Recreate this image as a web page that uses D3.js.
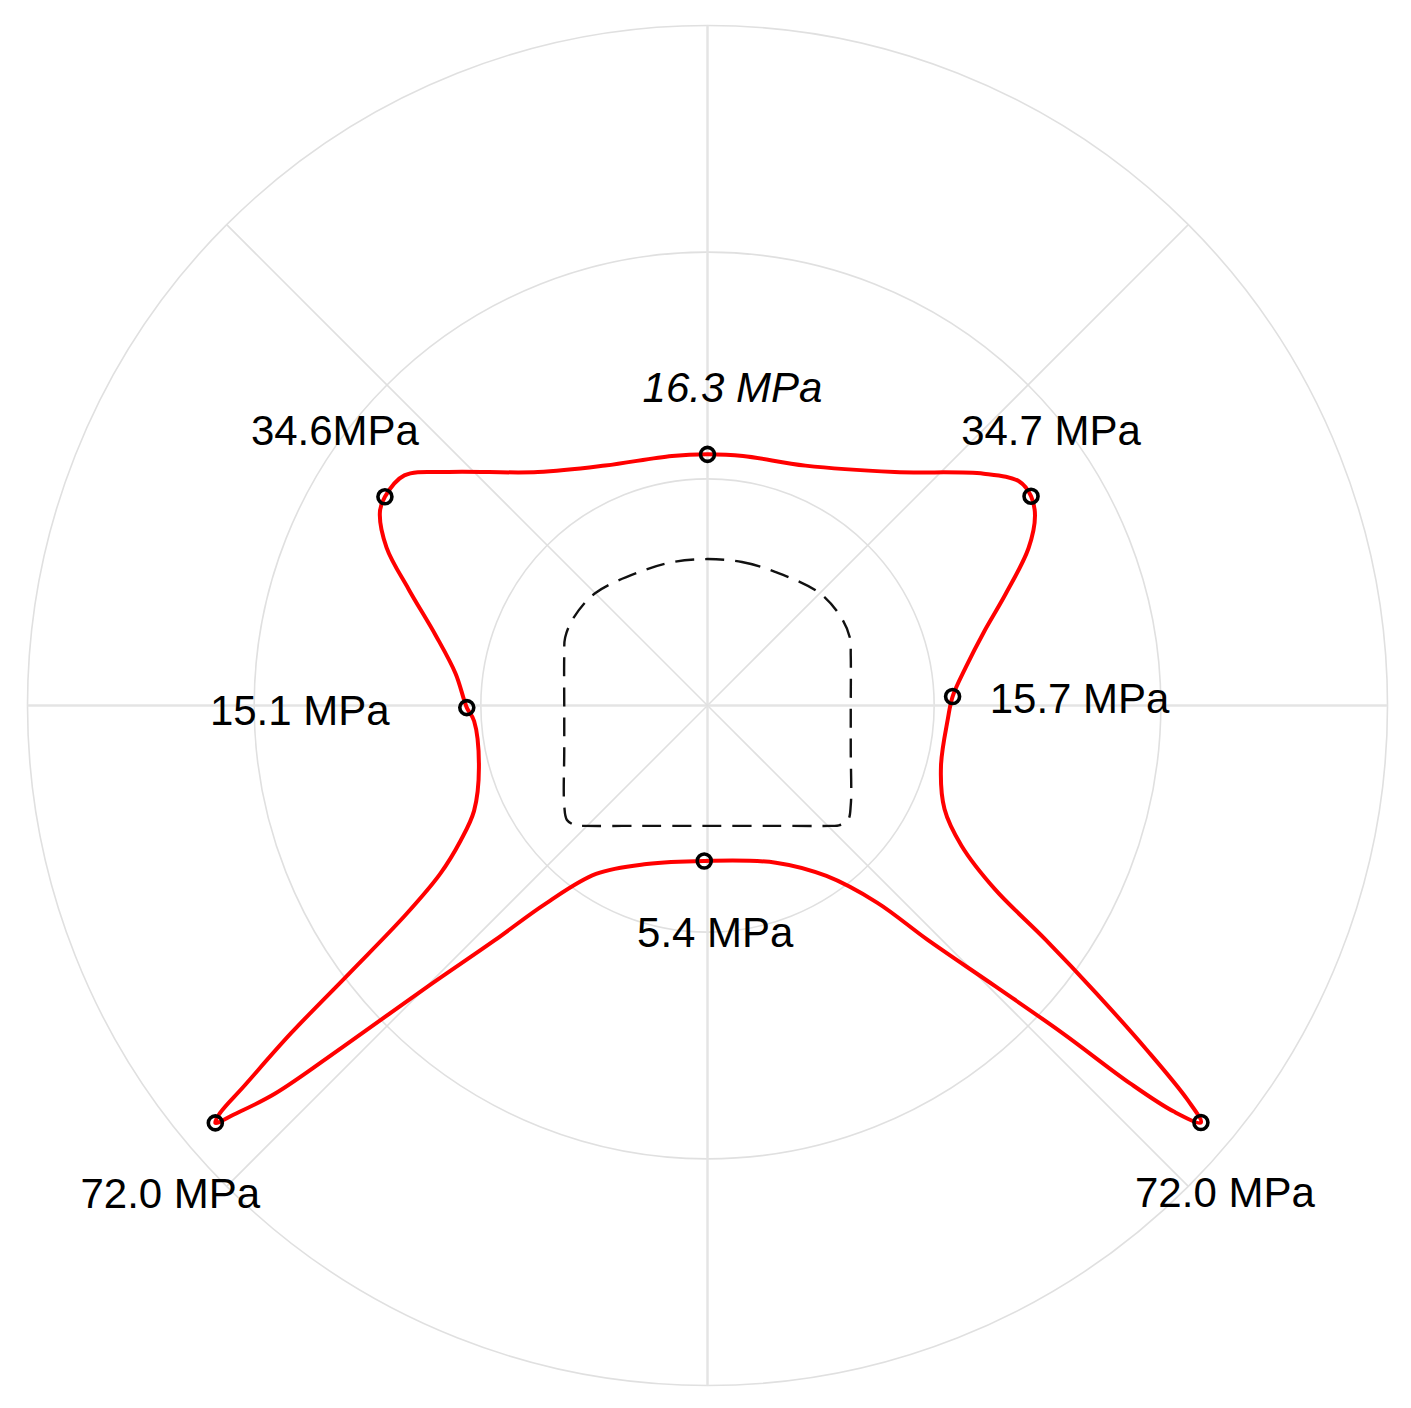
<!DOCTYPE html>
<html>
<head>
<meta charset="utf-8">
<script src="https://cdn.jsdelivr.net/npm/d3@7"></script>
<style>
  body { margin: 0; background: #fff; }
  text { font-family: Arial, "Liberation Sans", Helvetica, sans-serif; }
</style>
</head>
<body>
<div id="chart"></div>
<script>
// polar grid: ring radii (ring units) and spoke angles (deg, clockwise from top)
var ringValues = [1, 2, 3];
var spokeAngles = [0, 45, 90, 135, 180, 225, 270, 315];

// red stress curve (angle deg clockwise from top, radius in ring units)
var curveAngles = [0, 8.1, 22.2, 38.7, 50.0, 54.3, 57.1, 59.9, 63.9, 69.4, 75.1, 81.5, 87.9,
  93.2, 104.5, 113.6, 118.9, 122.6, 124.7, 126.5, 128.1, 129.4, 130.2, 131.05, 131.8, 132.7,
  134.3, 136.8, 139.3, 145.1, 156.5, 181.2, 201.0, 213.5, 219.3, 222.2, 224.9, 226.9, 228.1,
  229.2, 229.7, 230.1, 230.6, 231.8, 233.2, 235.3, 237.8, 241.3, 245.7, 254.8, 266.2, 269.5,
  277.2, 284.5, 291.2, 296.2, 300.6, 302.9, 307.2, 312.1, 324.0, 336.9, 351.9];
var curveRadii = [1.108, 1.112, 1.143, 1.320, 1.591, 1.694, 1.700, 1.670, 1.577, 1.407, 1.262, 1.153, 1.082,
  1.062, 1.064, 1.141, 1.280, 1.506, 1.814, 2.133, 2.463, 2.740, 2.850, 2.728, 2.501, 2.131,
  1.773, 1.417, 1.147, 0.917, 0.756, 0.686, 0.749, 0.891, 1.132, 1.399, 1.754, 2.207, 2.565,
  2.763, 2.847, 2.804, 2.648, 2.338, 1.976, 1.616, 1.394, 1.242, 1.130, 1.045, 1.032, 1.062,
  1.120, 1.239, 1.413, 1.578, 1.679, 1.695, 1.679, 1.537, 1.273, 1.151, 1.112];

// marked points and their labels
var pointAngles = [0, 57.1, 87.9, 130.2, 181.2, 229.7, 269.5, 302.9];
var pointRadii = [1.108, 1.700, 1.082, 2.850, 0.686, 2.847, 1.062, 1.695];
var pointLabels = ["16.3 MPa", "34.7 MPa", "15.7 MPa", "72.0 MPa", "5.4 MPa", "72.0 MPa", "15.1 MPa", "34.6MPa"];

// tunnel outline (dashed), x / y in ring units
var tunnelX = [0, 0.152, 0.298, 0.496, 0.592, 0.628, 0.632, 0.632, 0.632, 0.632, 0.62, 0.58, 0.54, 0.3, 0,
  -0.3, -0.54, -0.58, -0.62, -0.632, -0.632, -0.632, -0.632, -0.628, -0.592, -0.496, -0.298, -0.152];
var tunnelY = [0.646, 0.633, 0.59, 0.495, 0.385, 0.30, 0.22, 0.0, -0.2, -0.44, -0.505, -0.529, -0.531, -0.531, -0.531,
  -0.531, -0.531, -0.529, -0.505, -0.44, -0.2, 0.0, 0.22, 0.30, 0.385, 0.495, 0.59, 0.633];

var width = 1411, height = 1408;
var cx = 707.5, cy = 705.5, outer = 680;

// label placement relative to its point (px)
var labelOffsets = [[25, -52], [20, -51], [127, 16], [24, 85], [11, 86], [-45, 85], [-167, 17], [-50, -52]];

var rad = function(d) { return d * Math.PI / 180; };

var r = d3.scaleLinear().domain([0, 3]).range([0, outer]);
var x = d3.scaleLinear().domain([-3, 3]).range([-outer, outer]);
var y = d3.scaleLinear().domain([-3, 3]).range([outer, -outer]);

var svg = d3.select("#chart").append("svg")
    .attr("width", width)
    .attr("height", height),
  g = svg.append("g")
    .attr("transform", "translate(" + cx + "," + cy + ")");

// rings
g.selectAll(".ring")
  .data(ringValues)
  .enter().append("circle")
  .attr("class", "ring")
  .attr("r", function(d) { return r(d); })
  .attr("fill", "none")
  .attr("stroke", "#e0e0e0")
  .attr("stroke-width", 1.6);

// spokes
g.selectAll(".spoke")
  .data(spokeAngles)
  .enter().append("line")
  .attr("class", "spoke")
  .attr("x1", 0).attr("y1", 0)
  .attr("x2", function(d) { return d3.pointRadial(rad(d), r(3))[0]; })
  .attr("y2", function(d) { return d3.pointRadial(rad(d), r(3))[1]; })
  .attr("stroke", function(d) { return d % 90 === 0 ? "#e4e4e4" : "#e0e0e0"; })
  .attr("stroke-width", function(d) { return d % 90 === 0 ? 2.5 : 1.6; });

// tunnel outline
var tunnel = tunnelX.map(function(v, i) { return [v, tunnelY[i]]; });
g.append("path")
  .datum(tunnel)
  .attr("d", d3.line()
    .x(function(d) { return x(d[0]); })
    .y(function(d) { return y(d[1]); })
    .curve(d3.curveCatmullRomClosed.alpha(0.5)))
  .attr("fill", "none")
  .attr("stroke", "#111")
  .attr("stroke-width", 2.4)
  .attr("stroke-dasharray", "19,11");

// stress curve
var curve = curveAngles.map(function(a, i) { return [a, curveRadii[i]]; });
g.append("path")
  .datum(curve)
  .attr("d", d3.lineRadial()
    .angle(function(d) { return rad(d[0]); })
    .radius(function(d) { return r(d[1]); })
    .curve(d3.curveCatmullRomClosed.alpha(0.5)))
  .attr("fill", "none")
  .attr("stroke", "#ff0000")
  .attr("stroke-width", 4);

// markers
var pts = pointAngles.map(function(a, i) {
  var p = d3.pointRadial(rad(a), r(pointRadii[i]));
  return { x: p[0], y: p[1], label: pointLabels[i], off: labelOffsets[i], i: i };
});

g.selectAll(".marker")
  .data(pts)
  .enter().append("circle")
  .attr("class", "marker")
  .attr("cx", function(d) { return d.x; })
  .attr("cy", function(d) { return d.y; })
  .attr("r", 7)
  .attr("fill", "none")
  .attr("stroke", "#000")
  .attr("stroke-width", 3.6);

g.selectAll(".label")
  .data(pts)
  .enter().append("text")
  .attr("class", "label")
  .attr("x", function(d) { return d.x + d.off[0]; })
  .attr("y", function(d) { return d.y + d.off[1]; })
  .attr("text-anchor", "middle")
  .style("font-size", "42px")
  .style("font-style", function(d) { return d.i === 0 ? "italic" : "normal"; })
  .attr("fill", "#000")
  .text(function(d) { return d.label; });
</script>
</body>
</html>
